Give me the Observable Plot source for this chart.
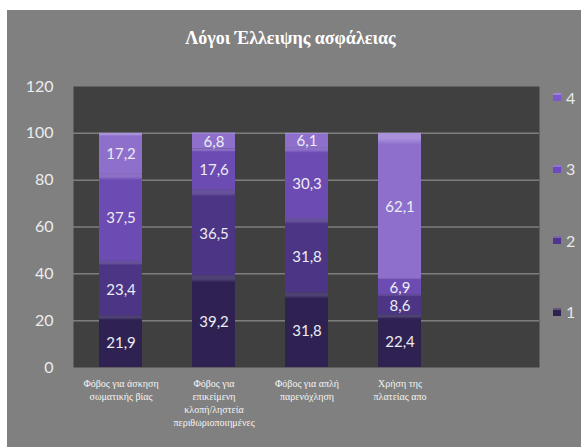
<!DOCTYPE html>
<html>
<head>
<meta charset="utf-8">
<script src="https://cdn.jsdelivr.net/npm/d3@7"></script>
<script src="https://cdn.jsdelivr.net/npm/@observablehq/plot@0.6"></script>
<style>
  html, body { margin: 0; padding: 0; background: #ffffff; }
  #wrap { position: relative; width: 581px; height: 447px; overflow: hidden; background: #ffffff; }
  #panel { position: absolute; left: 7px; top: 10px; right: 0; bottom: 0; background: #808080; }
  #title { position: absolute; left: 0; width: 581px; top: 28px; text-align: center;
           font-family: "Liberation Serif", "DejaVu Serif", serif; font-weight: bold; font-size: 18px; color: #ffffff; }
  #chart { position: absolute; left: 0; top: 0; }
  #legend { position: absolute; left: 553px; top: 88px; height: 233px; display: flex; flex-direction: column;
            justify-content: space-between; font-family: Lato, "Open Sans", sans-serif; font-size: 16px; color: #e8e8e8; }
  .item { display: flex; align-items: center; height: 18px; }
  .sw { width: 8px; height: 8px; margin-right: 5px; box-shadow: inset 0 2px 0 rgba(255,255,255,0.25); }
  .xlab text { font-family: "Liberation Serif", "DejaVu Serif", serif; }
</style>
</head>
<body>
<div id="wrap">
  <div id="panel"></div>
  <div id="chart"></div>
  <div id="title"></div>
  <div id="legend"></div>
</div>
<script>
// ---- data ----
const titleText = "Λόγοι Έλλειψης ασφάλειας";
const categories = [
  "Φόβος για άσκηση\nσωματικής βίας",
  "Φόβος για\nεπικείμενη\nκλοπή/ληστεία\nπεριθωριοποιημένες",
  "Φόβος για απλή\nπαρενόχληση",
  "Χρήση της\nπλατείας απο"
];
const emptyCategory = " ";
const seriesNames = ["1", "2", "3", "4"];
const series1 = [21.9, 39.2, 31.8, 22.4];
const series2 = [23.4, 36.5, 31.8, 8.6];
const series3 = [37.5, 17.6, 30.3, 6.9];
const series4 = [17.2, 6.8, 6.1, 62.1];
const yTicks = [0, 20, 40, 60, 80, 100, 120];
const gridValues = [20, 40, 60, 80, 100];

const seriesColors = ["#2f2252", "#4b3584", "#6c4bb2", "#8e70cc"];
const seriesLight  = ["#4e4174", "#66529c", "#8c70c8", "#a890da"];
const legendColors = ["#30224f", "#4e3592", "#6c48c2", "#7c58cc"];

const allSeries = [series1, series2, series3, series4];
const table = [];
categories.forEach((c, i) => {
  allSeries.forEach((s, k) => table.push({ cat: c, series: seriesNames[k], value: s[i] }));
});

const fmt = v => v.toFixed(1).replace(".", ",");

const plot = Plot.plot({
  width: 581,
  height: 447,
  marginLeft: 73,
  marginRight: 42,
  marginTop: 86,
  marginBottom: 80,
  style: { background: "transparent", overflow: "visible" },
  x: { domain: [...categories, emptyCategory], paddingInner: 0.54, paddingOuter: 0.26, axis: null, label: null },
  y: { domain: [0, 120], axis: null, label: null },
  color: { domain: seriesNames, range: seriesNames.map((d, i) => `url(#grad${i})`) },
  marks: [
    Plot.frame({ fill: "#404040", stroke: "none" }),
    Plot.ruleY(gridValues, { stroke: "#7e7e7e", strokeWidth: 1.5 }),
    Plot.barY(table, { x: "cat", y: "value", z: "series", fill: "series", order: seriesNames }),
    Plot.text(table, Plot.stackY({
      x: "cat", y: "value", z: "series", order: seriesNames,
      text: d => fmt(d.value),
      fill: "#ececf4", fontSize: 15, fontFamily: "Lato, 'Open Sans', sans-serif", dy: 1
    })),
    Plot.axisY({ ticks: yTicks, tickSize: 0, tickPadding: 20, fontSize: 16, label: null,
                 fontFamily: "Lato, 'Open Sans', sans-serif", fill: "#ececec" }),
    Plot.text(categories, {
      x: d => d, text: d => d, frameAnchor: "bottom", lineAnchor: "top", dy: 10,
      lineHeight: 1.3, fontSize: 10, fontFamily: "Liberation Serif", fill: "#f4f4f4",
      className: "xlab"
    })
  ]
});

// gradient definitions for a bevel-like look
const svg = d3.select(plot);
const defs = svg.insert("defs", ":first-child");
seriesColors.forEach((c, i) => {
  const g = defs.append("linearGradient").attr("id", `grad${i}`)
    .attr("x1", 0).attr("y1", 0).attr("x2", 0).attr("y2", 1);
  g.append("stop").attr("offset", "0").attr("stop-color", seriesLight[i]);
  g.append("stop").attr("offset", "0.04").attr("stop-color", seriesLight[i]);
  g.append("stop").attr("offset", "0.08").attr("stop-color", c);
  g.append("stop").attr("offset", "1").attr("stop-color", c);
});

document.getElementById("chart").appendChild(plot);
document.getElementById("title").textContent = titleText;

const legend = document.getElementById("legend");
[...seriesNames].reverse().forEach(name => {
  const i = seriesNames.indexOf(name);
  const item = document.createElement("div");
  item.className = "item";
  const sw = document.createElement("span");
  sw.className = "sw";
  sw.style.background = legendColors[i];
  const lab = document.createElement("span");
  lab.textContent = name;
  item.appendChild(sw);
  item.appendChild(lab);
  legend.appendChild(item);
});
</script>
</body>
</html>
